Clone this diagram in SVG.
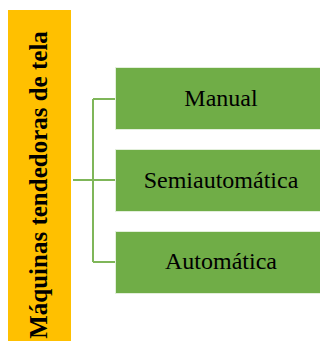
<svg xmlns="http://www.w3.org/2000/svg" width="320" height="344" viewBox="0 0 320 344">
  <style>
    .root { fill: #FFC000; }
    .item { fill: #70AD47; stroke: #E2EFDA; stroke-width: 1; }
    .lbl { font-family: "Liberation Serif", "Times New Roman", serif; font-size: 24px; fill: #000; text-anchor: middle; }
    .title { font-family: "Liberation Serif", "Times New Roman", serif; font-size: 25px; font-weight: bold; fill: #000; text-anchor: middle; }
    .conn { fill: none; stroke: #7FB659; stroke-width: 2; }
  </style>
  <rect width="320" height="344" fill="#FFFFFF"/>
  <g id="connectors">
    <path class="conn" d="M73 180 H93 M93 99 V262 M93 99 H116 M93 180 H116 M93 262 H116"/>
  </g>
  <g id="root">
    <rect class="root" x="8" y="10" width="63" height="331"/>
    <text class="title" transform="translate(47 185) rotate(-90)">Máquinas tendedoras de tela</text>
  </g>
  <g id="manual">
    <rect class="item" x="115.5" y="67.5" width="212" height="62"/>
    <text class="lbl" x="221" y="106">Manual</text>
  </g>
  <g id="semiautomatica">
    <rect class="item" x="115.5" y="149.5" width="212" height="62"/>
    <text class="lbl" x="221" y="188">Semiautomática</text>
  </g>
  <g id="automatica">
    <rect class="item" x="115.5" y="231.5" width="212" height="62"/>
    <text class="lbl" x="221" y="269">Automática</text>
  </g>
</svg>
